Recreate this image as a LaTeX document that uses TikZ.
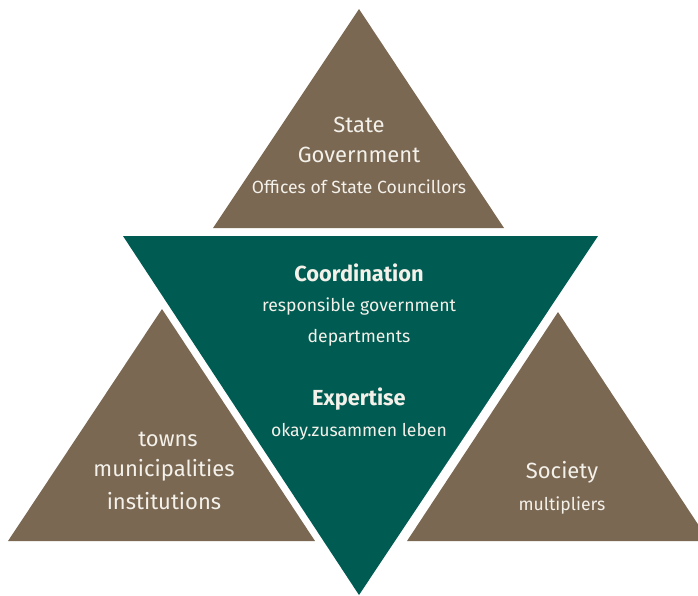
\documentclass[tikz,border=0pt]{standalone}
\usepackage{fontspec}
\setmainfont{Fira Sans}
\definecolor{umber}{HTML}{7A6853}
\definecolor{pine}{HTML}{005B52}
\definecolor{chalk}{HTML}{F4F1EA}

\begin{document}
\begin{tikzpicture}[x=1pt, y=-1pt,
  big/.style={text=chalk, inner sep=0pt, font=\fontsize{22}{26}\selectfont},
  small/.style={text=chalk, inner sep=0pt, font=\fontsize{17.6}{20}\selectfont},
  head/.style={text=chalk, inner sep=0pt, font=\fontsize{21.8}{24}\selectfont\bfseries}]
  \clip (0,0) rectangle (698,595);

  % the three outer triangles
  \fill[umber] (213,228) -- (359,9) -- (504,228) -- cycle;
  \fill[umber] (8,541) -- (162,309) -- (315,541) -- cycle;
  \fill[umber] (407,541) -- (558,312) -- (709,541) -- cycle;

  % central triangle, point down
  \fill[pine] (123,236) -- (598,236) -- (359,595) -- cycle;

  % top
  \node[big] (state) at (359,125) {State};
  \node[big] (govt) at (359,155) {Government};
  \node[small] (offices) at (359,187) {Offices of State Councillors};

  % centre
  \node[head] (coord) at (359,273) {Coordination};
  \node[small] (resp) at (359,307) {responsible government};
  \node[small] (depts) at (359,338) {departments};
  \node[head] (expert) at (359,399) {Expertise};
  \node[small] (okay) at (359,432) {okay.zusammen leben};

  % left
  \node[big] (towns) at (168,439) {towns};
  \node[big] (munic) at (164,470) {municipalities};
  \node[big] (inst) at (164,501) {institutions};

  % right
  \node[big] (society) at (562,472) {Society};
  \node[small] (multi) at (562,505) {multipliers};
\end{tikzpicture}
\end{document}
